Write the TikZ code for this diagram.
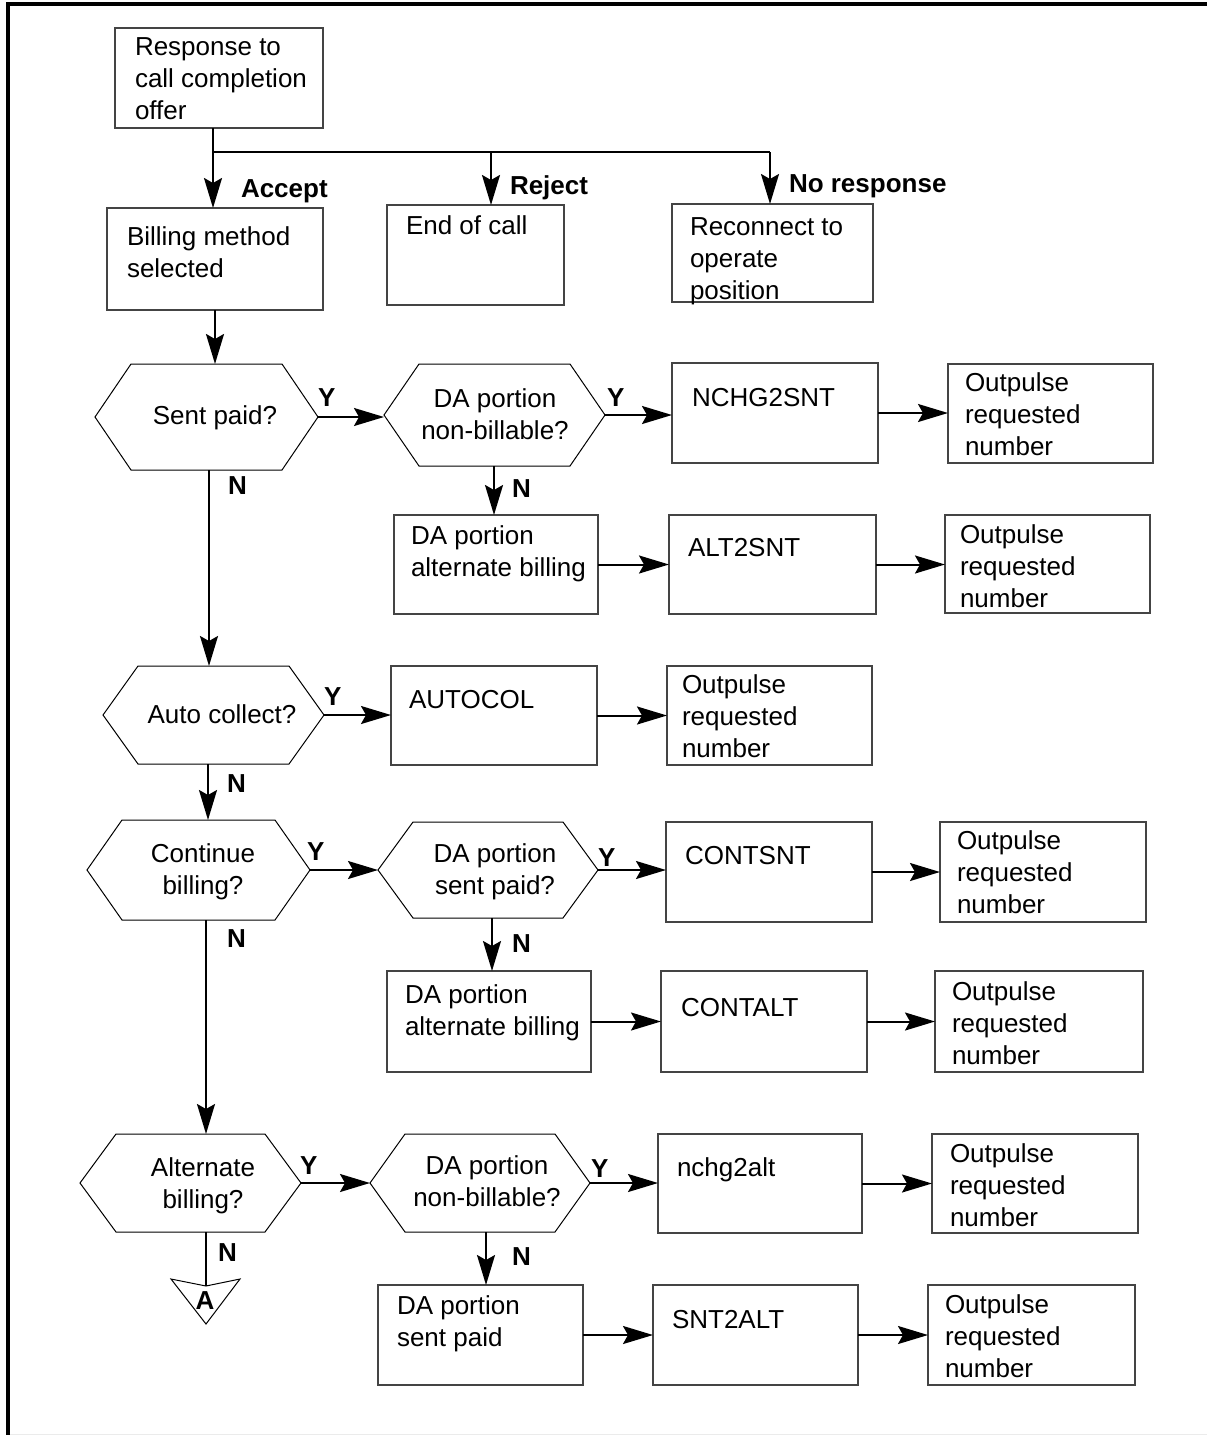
\documentclass[tikz,border=0pt]{standalone}
\usepackage{fontspec}
\setmainfont{Liberation Sans}
\usetikzlibrary{arrows.meta}
\definecolor{boxgray}{HTML}{444444}
\newcommand\bxn[5]{\node[bx, minimum width={#4-#2}, minimum height={#5-#3}] (#1) at (#2,#3) {};}
\newcommand\hexn[6]{%
  \node[hexbase, minimum width={#4-#2}, minimum height={#5-#3}] (#1) at (#2,#3) {};
  \draw[hexline] (#1.west) -- ([xshift=#6]#1.north west) -- ([xshift=-#6]#1.north east) -- (#1.east) -- ([xshift=-#6]#1.south east) -- ([xshift=#6]#1.south west) -- cycle;}
\newcommand\tx[4]{\node[txt] (#1) at (#2,{#3-14.4}) {#4};}
\newcommand\ctx[4]{\node[ctxt] (#1) at (#2,{#3-14.4}) {#4};}
\newcommand\outp{\strut Outpulse\\\strut requested\\\strut number}
\begin{document}
\begin{tikzpicture}[x=1pt,y=-1pt,
  every node/.style={inner sep=0pt, outer sep=0pt},
  bx/.style={draw=boxgray, line width=1.4pt, rectangle, anchor=north west},
  hexbase/.style={rectangle, draw=none, anchor=north west},
  hexline/.style={draw=black, line width=1pt, line join=miter},
  txt/.style={anchor=north west, align=left, font=\fontsize{26}{32}\selectfont},
  ctxt/.style={anchor=north, align=center, font=\fontsize{26}{32}\selectfont},
  lbl/.style={anchor=base west, font=\fontsize{26}{32}\selectfont\bfseries},
  arr/.style={line width=2pt, -{Stealth[length=30pt,width=18pt,inset=5pt]}},
  con/.style={line width=2pt},
]
\useasboundingbox (0,0) rectangle (1207,1435);
\fill[white] (0,0) rectangle (1207,1435);
% frame
\draw[line width=3.5pt, line join=miter] (8,1435) -- (8,4) -- (1207,4);
\draw[black!8, line width=1pt] (10,1434) -- (1207,1434);

% top section
\bxn{b0}{115}{28}{323}{128}
\tx{t0}{135}{47.5}{\strut Response to\\\strut call completion\\\strut offer}
\bxn{b1}{107}{208}{323}{310}
\tx{t1}{127}{237}{\strut Billing method\\\strut selected}
\bxn{b2}{387}{205}{564}{305}
\tx{t2}{406}{226}{\strut End of call}
\bxn{b3}{672}{204}{873}{302}
\tx{t3}{690}{227}{\strut Reconnect to\\\strut operate\\\strut position}
\node[lbl] (lacc) at (241,197) {Accept};
\node[lbl] (lrej) at (510,194) {Reject};
\node[lbl] (lnor) at (789,192) {No response};
\coordinate (br0) at (213,152);
\coordinate (br1) at (491,152);
\coordinate (br2) at (770,152);
\draw[arr] (b0.south -| br0) -- (b1.north -| br0);
\draw[con] (br0) -- (br2);
\draw[arr] (br1) -- (b2.north -| br1);
\draw[arr] (br2) -- (b3.north -| br2);
\draw[arr] (b1.south -| b1.south) -- (b1.south |- 364,364);

% row 1
\hexn{h1}{95}{364}{318}{470}{36}
\ctx{s1}{215}{416}{\strut Sent paid?}
\node[lbl] (y1) at (318,406) {Y};
\hexn{h2}{384}{364}{605}{466}{35}
\ctx{s2}{495}{399}{\strut DA portion\\\strut non-billable?}
\node[lbl] (y2) at (607,406) {Y};
\bxn{b4}{672}{363}{878}{463}
\tx{t4}{692}{398}{\strut NCHG2SNT}
\bxn{o1}{948}{364}{1153}{463}
\tx{u1}{965}{383}{\outp}
\node[lbl] (n2) at (512,497) {N};
\bxn{b5}{394}{515}{598}{614}
\tx{t5}{411}{536}{\strut DA portion\\\strut alternate billing}
\bxn{b6}{669}{515}{876}{614}
\tx{t6}{688}{548}{\strut ALT2SNT}
\bxn{o2}{945}{515}{1150}{613}
\tx{u2}{960}{535}{\outp}
\node[lbl] (n1) at (228,494) {N};

% row 2
\hexn{h3}{103}{666}{324}{764}{35}
\ctx{s3}{222}{715}{\strut Auto collect?}
\node[lbl] (y3) at (324,705) {Y};
\bxn{b7}{391}{666}{597}{765}
\tx{t7}{409}{700}{\strut AUTOCOL}
\bxn{o3}{667}{666}{872}{765}
\tx{u3}{682}{685}{\outp}
\node[lbl] (n3) at (227,792) {N};

% row 3
\hexn{h4}{87}{820}{310}{920}{35}
\ctx{s4}{203}{854}{\strut Continue\\\strut billing?}
\node[lbl] (y4) at (307,860) {Y};
\hexn{h5}{378}{822}{598}{918}{35}
\ctx{s5}{495}{854}{\strut DA portion\\\strut sent paid?}
\node[lbl] (y5) at (598,866) {Y};
\bxn{b8}{666}{822}{872}{922}
\tx{t8}{685}{856}{\strut CONTSNT}
\bxn{o4}{940}{822}{1146}{922}
\tx{u4}{957}{841}{\outp}
\node[lbl] (n5) at (512,952) {N};
\bxn{b9}{387}{971}{591}{1072}
\tx{t9}{405}{995}{\strut DA portion\\\strut alternate billing}
\bxn{b10}{661}{971}{867}{1072}
\tx{t10}{681}{1008}{\strut CONTALT}
\bxn{o5}{935}{971}{1143}{1072}
\tx{u5}{952}{992}{\outp}
\node[lbl] (n4) at (227,947) {N};

% row 4
\hexn{h6}{80}{1134}{301}{1232}{36}
\ctx{s6}{203}{1168}{\strut Alternate\\\strut billing?}
\node[lbl] (y6) at (300,1174) {Y};
\hexn{h7}{370}{1134}{590}{1232}{35}
\ctx{s7}{487}{1166}{\strut DA portion\\\strut non-billable?}
\node[lbl] (y7) at (591,1177) {Y};
\bxn{b11}{658}{1134}{862}{1233}
\tx{t11}{677}{1168}{\strut nchg2alt}
\bxn{o6}{932}{1134}{1138}{1233}
\tx{u6}{950}{1154}{\outp}
\node[lbl] (n7) at (512,1265) {N};
\bxn{b12}{378}{1285}{583}{1385}
\tx{t12}{397}{1306}{\strut DA portion\\\strut sent paid}
\bxn{b13}{653}{1285}{858}{1385}
\tx{t13}{672}{1320}{\strut SNT2ALT}
\bxn{o7}{928}{1285}{1135}{1385}
\tx{u7}{945}{1305}{\outp}
\node[lbl] (n6) at (218,1261) {N};

% off-page connector A
\coordinate (trl) at (171,1279);
\coordinate (trm) at (206,1286);
\coordinate (trr) at (240,1279);
\coordinate (trb) at (206,1324);
\draw[line width=1pt, line join=miter] (trl) -- (trm) -- (trr) -- (trb) -- cycle;
\node[lbl, anchor=base] (la) at (205,1309) {A};

% connectors
\coordinate (v1) at (209,0);
\coordinate (v2) at (494,0);
\coordinate (v3) at (208,0);
\coordinate (v4) at (492,0);
\coordinate (v5) at (206,0);
\coordinate (v6) at (486,0);
\draw[arr] (h1.east) -- (h1.east -| h2.west);
\draw[arr] (h2.east) -- (h2.east -| b4.west);
\draw[arr] (b4.east) -- (b4.east -| o1.west);
\draw[arr] (h2.south -| v2) -- (b5.north -| v2);
\draw[arr] (b5.east) -- (b5.east -| b6.west);
\draw[arr] (b6.east) -- (b6.east -| o2.west);
\draw[arr] (h1.south -| v1) -- (h3.north -| v1);
\draw[arr] (h3.east) -- (h3.east -| b7.west);
\draw[arr] (b7.east) -- (b7.east -| o3.west);
\draw[arr] (h3.south -| v3) -- (h4.north -| v3);
\draw[arr] (h4.east) -- (h4.east -| h5.west);
\draw[arr] (h5.east) -- (h5.east -| b8.west);
\draw[arr] (b8.east) -- (b8.east -| o4.west);
\draw[arr] (h5.south -| v4) -- (b9.north -| v4);
\draw[arr] (b9.east) -- (b9.east -| b10.west);
\draw[arr] (b10.east) -- (b10.east -| o5.west);
\draw[arr] (h4.south -| v5) -- (h6.north -| v5);
\draw[arr] (h6.east) -- (h6.east -| h7.west);
\draw[arr] (h7.east) -- (h7.east -| b11.west);
\draw[arr] (b11.east) -- (b11.east -| o6.west);
\draw[arr] (h7.south -| v6) -- (b12.north -| v6);
\draw[arr] (b12.east) -- (b12.east -| b13.west);
\draw[arr] (b13.east) -- (b13.east -| o7.west);
\draw[con] (h6.south -| v5) -- (trm);
\end{tikzpicture}
\end{document}
